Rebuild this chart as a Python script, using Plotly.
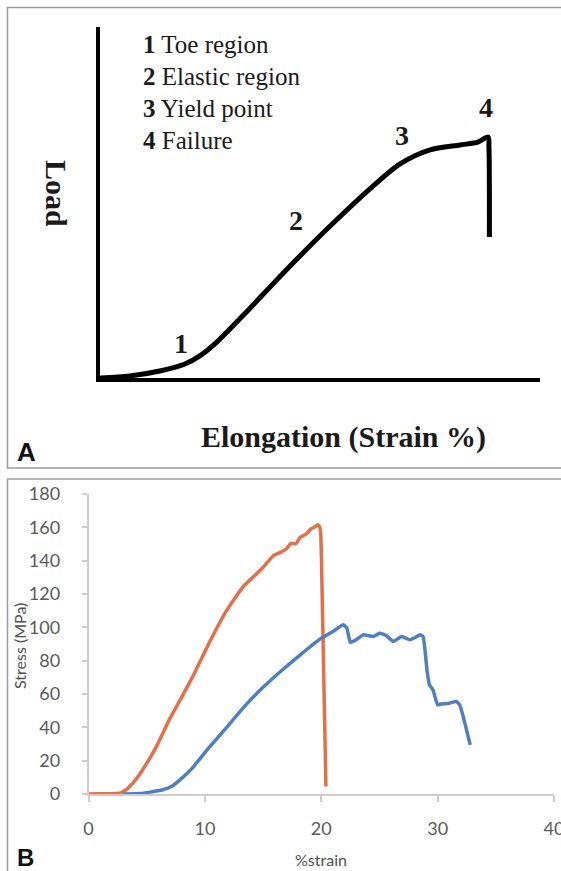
import plotly.graph_objects as go

W, H = 561, 871

# ---------- Panel A (schematic load-elongation curve) ----------
a_strain = [0, 6.8, 13.6, 19.3, 22.7, 26.6, 34.1, 43.2, 52.3, 61.8, 68.2, 75.0, 81.8, 85.9, 88.2, 88.4, 88.5]
a_load = [0, 0.6, 2.0, 4.0, 6.3, 10.3, 19.9, 31.9, 43.3, 54.4, 61.0, 65.0, 66.4, 67.2, 68.7, 65.5, 40.2]
legend_lines = [("1", "Toe region"), ("2", "Elastic region"), ("3", "Yield point"), ("4", "Failure")]
point_labels = ["1", "2", "3", "4"]
point_label_x = [18.4, 44.5, 68.6, 87.7]
point_label_y = [9.7, 45.0, 69.2, 77.2]

# ---------- Panel B (stress-strain data) ----------
orange_x = [0, 1, 2, 2.7, 3.2, 3.9, 4.6, 5.8, 6.9, 8.0, 9.0, 10.5, 11.9, 13.3, 14.8, 15.9, 16.5, 17.0, 17.4, 17.8,
            18.2, 18.7, 19.1, 19.4, 19.7, 19.85, 19.95, 20.05, 20.4]
orange_y = [0, 0.1, 0.2, 0.5, 2.4, 7.3, 14, 28, 44, 58, 71, 92.5, 110.5, 124.5, 134.5, 143, 145, 147, 150.5, 150,
            154, 156, 159, 160, 161.5, 160.5, 157, 130, 4.5]
blue_x = [3, 4.5, 5.5, 6.3, 7.2, 8.0, 8.9, 10.3, 11.8, 13.5, 15.0, 16.5, 18.2, 20.0, 21.0, 21.9, 22.2, 22.5, 23.0, 23.6,
          24.5, 25.0, 25.6, 26.2, 26.9, 27.6, 28.1, 28.5, 28.75, 29.1, 29.3, 29.6, 30.0, 30.3, 31.0, 31.6, 31.9, 32.8]
blue_y = [0, 0.3, 1.4, 2.4, 4.8, 9.4, 15.4, 27.4, 39.4, 53.3, 64, 73.5, 83.5, 93.5, 97.5, 101.5, 99.5, 91, 92.5, 95.5,
          94.5, 96.5, 95, 91.5, 94.5, 92.5, 94, 95.5, 94.5, 73.5, 65.5, 62.5, 53.5, 54, 54.5, 55.5, 53.5, 29.5]
b_xticks = [0, 10, 20, 30, 40]
b_yticks = [0, 20, 40, 60, 80, 100, 120, 140, 160, 180]


def px_x(p):
    return p / W


def px_y(p):
    return (H - p) / H


fig = go.Figure()

fig.add_trace(go.Scatter(x=a_strain, y=a_load, mode="lines", xaxis="x", yaxis="y",
                         line=dict(color="black", width=5, shape="spline", smoothing=0.8),
                         hoverinfo="skip", showlegend=False))

fig.add_trace(go.Scatter(x=orange_x, y=orange_y, mode="lines", xaxis="x2", yaxis="y2",
                         line=dict(color="#E0714B", width=3.5, shape="spline", smoothing=0.4),
                         showlegend=False))
fig.add_trace(go.Scatter(x=blue_x, y=blue_y, mode="lines", xaxis="x2", yaxis="y2",
                         line=dict(color="#4F7FBD", width=3.5, shape="spline", smoothing=0.4),
                         showlegend=False))

axis_gray = "#d6c9c9"
tick_font = dict(family="Lato, 'Open Sans', sans-serif", size=18, color="#5a5a5a")

fig.update_layout(
    template="none",
    width=W, height=H, autosize=False,
    margin=dict(l=0, r=0, t=0, b=0, pad=0, autoexpand=False),
    paper_bgcolor="white", plot_bgcolor="white",
    xaxis=dict(domain=[px_x(100), px_x(540)], range=[0, 100], showline=True, linecolor="black",
               linewidth=4, showgrid=False, zeroline=False, showticklabels=False, ticks="", fixedrange=True,
               automargin=False),
    yaxis=dict(domain=[px_y(378), px_y(27)], range=[0, 100], showline=True, linecolor="black",
               linewidth=4, showgrid=False, zeroline=False, showticklabels=False, ticks="", fixedrange=True,
               automargin=False),
    xaxis2=dict(domain=[px_x(88.5), px_x(554)], range=[0, 40], anchor="y2", showline=True,
                linecolor=axis_gray, linewidth=1.5, showgrid=False, zeroline=False,
                tickvals=b_xticks, ticktext=[str(v) for v in b_xticks], ticks="outside", ticklen=6,
                tickcolor=axis_gray, tickwidth=1.5, tickfont=tick_font, ticklabelstandoff=12,
                ticklabeloverflow="allow", automargin=False),
    yaxis2=dict(domain=[px_y(794), px_y(494)], range=[0, 180], anchor="x2", showline=True,
                linecolor=axis_gray, linewidth=1.5, showgrid=False, zeroline=False,
                tickvals=b_yticks, ticktext=[str(v) for v in b_yticks], ticks="outside", ticklen=5,
                tickcolor=axis_gray, tickwidth=1.5, tickfont=tick_font, ticklabelstandoff=18,
                automargin=False),
)

# panel borders
fig.add_shape(type="rect", xref="paper", yref="paper", x0=px_x(7.5), x1=1.02, y0=px_y(468), y1=px_y(7.5),
              line=dict(color="#9a9a9a", width=1.5), layer="below")
fig.add_shape(type="rect", xref="paper", yref="paper", x0=px_x(7.5), x1=1.02, y0=-0.02, y1=px_y(479),
              line=dict(color="#9a9a9a", width=1.5), layer="below")

serif = "'Liberation Serif', 'Times New Roman', serif"

for i, (num, txt) in enumerate(legend_lines):
    fig.add_annotation(xref="paper", yref="paper", x=px_x(141), y=px_y(45 + i * 31.7), xanchor="left",
                       yanchor="middle", showarrow=False,
                       text=f"<b>{num}</b> {txt}", font=dict(family=serif, size=25, color="#1a1a1a"))

for lab, lx, ly in zip(point_labels, point_label_x, point_label_y):
    fig.add_annotation(xref="x", yref="y", x=lx, y=ly, xanchor="center", yanchor="middle", showarrow=False,
                       text=f"<b>{lab}</b>", font=dict(family=serif, size=28, color="#1a1a1a"))


def label(x, y, text, font, angle=0):
    fig.add_annotation(xref="paper", yref="paper", x=px_x(x), y=px_y(y), xanchor="center", yanchor="middle",
                       textangle=angle, showarrow=False, text=text, font=font)


label(57, 193, "<b>Load</b>", dict(family=serif, size=30, color="#1a1a1a"), 90)
label(343, 437, "<b>Elongation (Strain %)</b>", dict(family=serif, size=30, color="#1a1a1a"))

sans_bold = "'Liberation Sans', Arial, sans-serif"
label(26.5, 452.5, "<b>A</b>", dict(family=sans_bold, size=26, color="#111"))
label(25.5, 857, "<b>B</b>", dict(family=sans_bold, size=24, color="#111"))

label(19, 646, "Stress (MPa)", dict(family="Lato, 'Open Sans', sans-serif", size=16, color="#505050"), -90)
label(321, 859, "%strain", dict(family="Lato, 'Open Sans', sans-serif", size=16, color="#505050"))

fig.write_html("out.html", config={"displayModeBar": False},
               post_script="document.body.style.margin='0';")
